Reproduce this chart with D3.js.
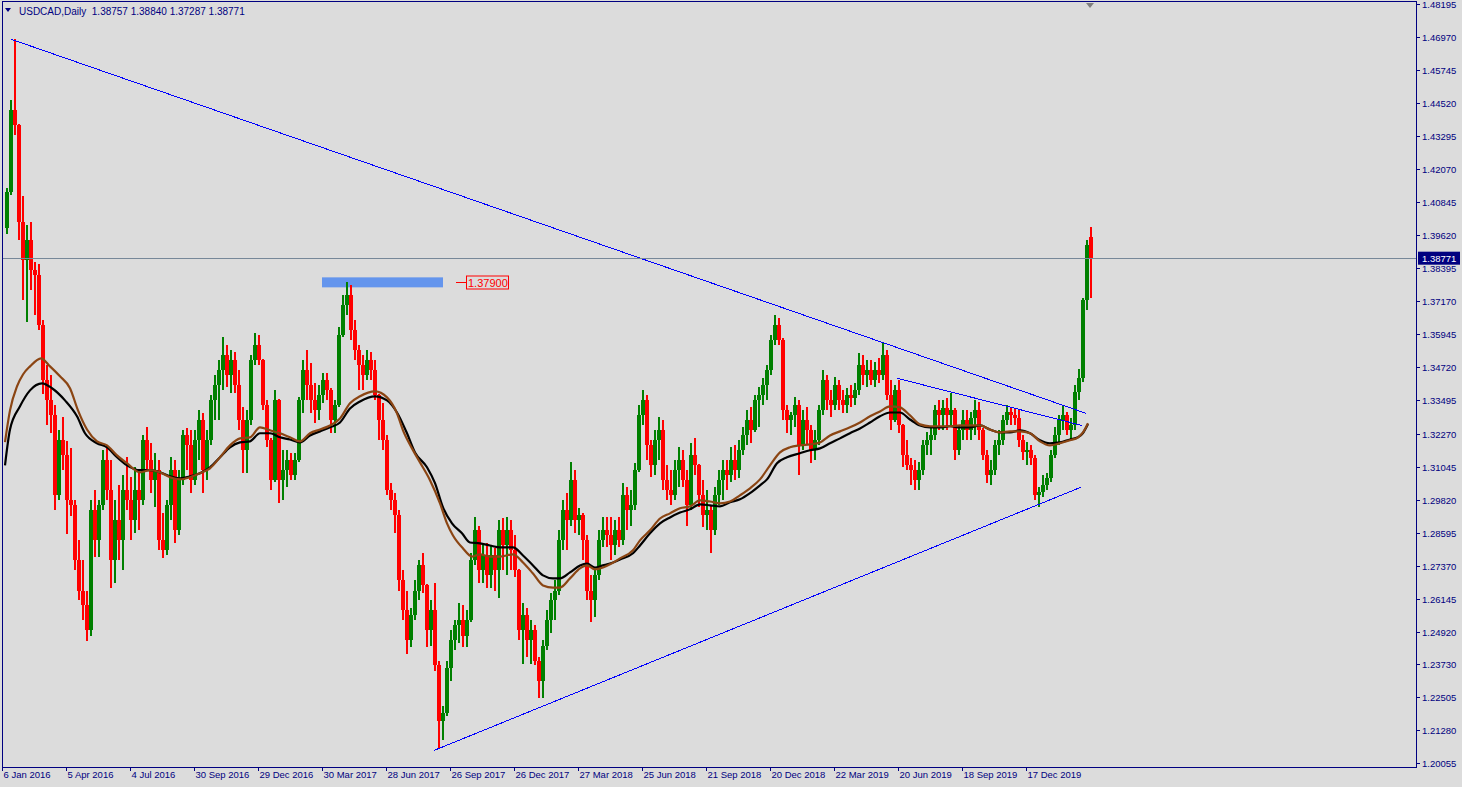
<!DOCTYPE html>
<html><head><meta charset="utf-8">
<script src="https://cdn.jsdelivr.net/npm/d3@7"></script>
<style>
html,body{margin:0;padding:0;background:#DCDCDC;overflow:hidden;}
svg{display:block;}
text{font-family:"Liberation Sans",Arial,sans-serif;}
</style></head><body>
<svg id="c" width="1462" height="787"></svg>
<script>
// ---------------- DATA ----------------
const symbolTitle = "USDCAD,Daily";
const lastBar = [1.38757, 1.38840, 1.37287, 1.38771]; // O H L C of the last daily bar
const groupSize = 4; // each candle below aggregates 4 daily bars

const dateLabels = ["6 Jan 2016","5 Apr 2016","4 Jul 2016","30 Sep 2016","29 Dec 2016","30 Mar 2017","28 Jun 2017","26 Sep 2017","26 Dec 2017","27 Mar 2018","25 Jun 2018","21 Sep 2018","20 Dec 2018","22 Mar 2019","20 Jun 2019","18 Sep 2019","17 Dec 2019"];
const dateBars = [0,64,128,192,256,320,384,448,512,576,640,704,768,832,896,960,1024];

const priceLabels = ["1.48195","1.46970","1.45745","1.44520","1.43295","1.42070","1.40845","1.39620","1.38395","1.37170","1.35945","1.34720","1.33495","1.32270","1.31045","1.29820","1.28595","1.27370","1.26145","1.24920","1.23730","1.22505","1.21280","1.20055"];

const opens = [
1.3988,1.4122,1.4426,1.4370,1.4010,1.3869,1.3944,1.3832,1.3814,1.3628,
1.3424,1.3350,1.3294,1.2998,1.3202,1.3146,1.2979,1.2961,1.2757,1.2645,
1.2590,1.2497,1.2942,1.2831,1.2961,1.3128,1.3017,1.2757,1.2905,1.2831,
1.3017,1.2979,1.2905,1.3017,1.2979,1.3202,1.3128,1.3054,1.3091,1.2831,
1.2794,1.2961,1.3091,1.2868,1.3054,1.3220,1.3183,1.3054,1.3202,1.3276,
1.3091,1.3202,1.3350,1.3406,1.3461,1.3517,1.3443,1.3498,1.3406,1.3276,
1.3165,1.3276,1.3498,1.3554,1.3498,1.3331,1.3202,1.3054,1.3350,1.3054,
1.3091,1.3128,1.3072,1.3128,1.3350,1.3461,1.3406,1.3350,1.3313,1.3369,
1.3424,1.3387,1.3276,1.3331,1.3591,1.3703,1.3740,1.3610,1.3536,1.3480,
1.3443,1.3498,1.3461,1.3369,1.3276,1.3202,1.3017,1.2979,1.2924,1.2683,
1.2571,1.2460,1.2553,1.2645,1.2738,1.2664,1.2497,1.2571,1.2367,1.2163,
1.2192,1.2356,1.2460,1.2516,1.2534,1.2478,1.2534,1.2757,1.2868,1.2720,
1.2775,1.2701,1.2775,1.2720,1.2868,1.2812,1.2868,1.2794,1.2720,1.2497,
1.2553,1.2460,1.2497,1.2385,1.2311,1.2441,1.2534,1.2608,1.2645,1.2831,
1.2942,1.2905,1.3054,1.2905,1.2924,1.2831,1.2645,1.2608,1.2701,1.2831,
1.2868,1.2849,1.2812,1.2868,1.2831,1.2998,1.2942,1.2961,1.3091,1.3294,
1.3350,1.3183,1.3109,1.3202,1.3239,1.3054,1.3017,1.2998,1.3091,1.3128,
1.3054,1.2961,1.3146,1.3109,1.2998,1.2924,1.2942,1.2868,1.2998,1.3054,
1.3091,1.3072,1.3128,1.3091,1.3165,1.3220,1.3276,1.3239,1.3350,1.3369,
1.3406,1.3461,1.3573,1.3628,1.3573,1.3313,1.3276,1.3294,1.3331,1.3183,
1.3276,1.3239,1.3165,1.3202,1.3313,1.3424,1.3350,1.3331,1.3406,1.3350,
1.3331,1.3369,1.3358,1.3387,1.3480,1.3443,1.3461,1.3424,1.3461,1.3443,
1.3517,1.3369,1.3276,1.3387,1.3257,1.3146,1.3109,1.3091,1.3054,1.3091,
1.3183,1.3202,1.3220,1.3313,1.3294,1.3320,1.3294,1.3313,1.3165,1.3239,
1.3276,1.3239,1.3283,1.3313,1.3239,1.3146,1.3072,1.3091,1.3183,1.3202,
1.3276,1.3305,1.3294,1.3283,1.3202,1.3157,1.3165,1.3135,1.2998,1.3009,
1.3035,1.3061,1.3146,1.3220,1.3276,1.3294,1.3239,1.3257,1.3380,1.3432,
1.3721,1.3955];

const highs = [
1.4137,1.4463,1.4689,1.4375,1.4107,1.3999,1.4010,1.3862,1.3855,1.3647,
1.3480,1.3443,1.3331,1.3239,1.3287,1.3198,1.3172,1.2979,1.2831,1.2757,
1.2645,1.2979,1.3017,1.2979,1.3165,1.3183,1.3128,1.2979,1.3035,1.3072,
1.3139,1.3065,1.3102,1.3091,1.3220,1.3250,1.3191,1.3154,1.3128,1.2931,
1.2979,1.3139,1.3128,1.3091,1.3239,1.3246,1.3239,1.3239,1.3313,1.3302,
1.3239,1.3369,1.3443,1.3498,1.3584,1.3554,1.3536,1.3528,1.3461,1.3324,
1.3313,1.3517,1.3599,1.3591,1.3505,1.3350,1.3210,1.3387,1.3355,1.3165,
1.3165,1.3154,1.3154,1.3361,1.3498,1.3536,1.3487,1.3413,1.3406,1.3450,
1.3450,1.3395,1.3350,1.3621,1.3740,1.3788,1.3777,1.3647,1.3554,1.3517,
1.3536,1.3528,1.3498,1.3375,1.3339,1.3220,1.3043,1.3006,1.2942,1.2720,
1.2645,1.2582,1.2683,1.2757,1.2783,1.2670,1.2608,1.2671,1.2385,1.2218,
1.2385,1.2497,1.2534,1.2597,1.2590,1.2571,1.2783,1.2916,1.2886,1.2812,
1.2820,1.2812,1.2801,1.2905,1.2912,1.2916,1.2905,1.2849,1.2725,1.2597,
1.2582,1.2534,1.2516,1.2397,1.2460,1.2571,1.2634,1.2683,1.2868,1.2979,
1.3006,1.3120,1.3091,1.2950,1.2931,1.2849,1.2701,1.2720,1.2868,1.2916,
1.2916,1.2916,1.2905,1.2916,1.3043,1.3028,1.3017,1.3117,1.3331,1.3387,
1.3369,1.3202,1.3239,1.3287,1.3276,1.3109,1.3091,1.3128,1.3176,1.3165,
1.3091,1.3191,1.3209,1.3115,1.3054,1.3017,1.2961,1.3028,1.3091,1.3128,
1.3128,1.3176,1.3183,1.3202,1.3250,1.3313,1.3324,1.3369,1.3398,1.3432,
1.3480,1.3591,1.3665,1.3654,1.3580,1.3331,1.3305,1.3361,1.3350,1.3313,
1.3324,1.3257,1.3239,1.3331,1.3461,1.3443,1.3387,1.3435,1.3424,1.3387,
1.3395,1.3406,1.3413,1.3524,1.3517,1.3498,1.3498,1.3491,1.3506,1.3566,
1.3536,1.3424,1.3406,1.3424,1.3262,1.3202,1.3135,1.3128,1.3120,1.3202,
1.3231,1.3250,1.3331,1.3350,1.3350,1.3358,1.3376,1.3320,1.3257,1.3313,
1.3313,1.3305,1.3350,1.3343,1.3246,1.3165,1.3128,1.3202,1.3239,1.3294,
1.3331,1.3324,1.3320,1.3313,1.3220,1.3194,1.3183,1.3146,1.3028,1.3072,
1.3080,1.3165,1.3250,1.3294,1.3331,1.3305,1.3283,1.3406,1.3465,1.3728,
1.3944,1.3992];

const lows = [
1.3966,1.4111,1.4333,1.3944,1.3721,1.3639,1.3758,1.3665,1.3610,1.3372,
1.3257,1.3228,1.2942,1.2979,1.3091,1.2853,1.2920,1.2720,1.2608,1.2534,
1.2456,1.2478,1.2771,1.2771,1.2942,1.2979,1.2656,1.2671,1.2757,1.2720,
1.2942,1.2831,1.2857,1.2868,1.2961,1.3091,1.3006,1.2953,1.2794,1.2764,
1.2775,1.2905,1.2820,1.2849,1.3035,1.3091,1.3006,1.3035,1.3128,1.3006,
1.3054,1.3183,1.3276,1.3276,1.3387,1.3398,1.3376,1.3376,1.3239,1.3080,
1.3080,1.3257,1.3480,1.3480,1.3313,1.3176,1.3017,1.3048,1.2968,1.2979,
1.3028,1.3054,1.3054,1.3120,1.3302,1.3350,1.3302,1.3265,1.3276,1.3339,
1.3350,1.3228,1.3228,1.3325,1.3585,1.3665,1.3573,1.3498,1.3387,1.3387,
1.3424,1.3424,1.3350,1.3202,1.3165,1.2998,1.2942,1.2857,1.2645,1.2534,
1.2411,1.2434,1.2534,1.2608,1.2634,1.2434,1.2441,1.2348,1.2059,1.2089,
1.2181,1.2311,1.2423,1.2449,1.2434,1.2434,1.2527,1.2738,1.2671,1.2671,
1.2656,1.2656,1.2645,1.2619,1.2720,1.2701,1.2720,1.2694,1.2460,1.2374,
1.2397,1.2374,1.2367,1.2248,1.2248,1.2423,1.2486,1.2534,1.2627,1.2794,
1.2794,1.2886,1.2857,1.2849,1.2757,1.2608,1.2527,1.2545,1.2683,1.2805,
1.2805,1.2757,1.2775,1.2805,1.2812,1.2868,1.2886,1.2942,1.3083,1.3257,
1.3128,1.3065,1.3072,1.3128,1.3017,1.2979,1.2961,1.2979,1.3028,1.3028,
1.2886,1.2942,1.3072,1.2953,1.2879,1.2868,1.2783,1.2849,1.2961,1.2979,
1.3017,1.3046,1.3054,1.3061,1.3146,1.3183,1.3191,1.3231,1.3250,1.3331,
1.3350,1.3443,1.3554,1.3554,1.3276,1.3228,1.3220,1.3250,1.3072,1.3165,
1.3183,1.3117,1.3128,1.3183,1.3294,1.3313,1.3287,1.3313,1.3313,1.3302,
1.3302,1.3324,1.3331,1.3369,1.3406,1.3398,1.3406,1.3398,1.3413,1.3424,
1.3350,1.3239,1.3268,1.3228,1.3102,1.3091,1.3035,1.3017,1.3017,1.3072,
1.3146,1.3146,1.3202,1.3239,1.3239,1.3239,1.3257,1.3128,1.3146,1.3202,
1.3202,1.3202,1.3220,1.3202,1.3128,1.3043,1.3035,1.3072,1.3146,1.3183,
1.3257,1.3257,1.3257,1.3176,1.3128,1.3109,1.3109,1.2979,1.2953,1.2991,
1.3017,1.3046,1.3135,1.3183,1.3239,1.3220,1.3202,1.3239,1.3350,1.3417,
1.3684,1.3729];

const closes = [
1.4122,1.4426,1.4370,1.4010,1.3869,1.3944,1.3832,1.3814,1.3628,1.3424,
1.3350,1.3294,1.2998,1.3202,1.3146,1.2979,1.2961,1.2757,1.2645,1.2590,
1.2497,1.2942,1.2831,1.2961,1.3128,1.3017,1.2757,1.2905,1.2831,1.3017,
1.2979,1.2905,1.3017,1.2979,1.3202,1.3128,1.3054,1.3091,1.2831,1.2794,
1.2961,1.3091,1.2868,1.3054,1.3220,1.3183,1.3054,1.3202,1.3276,1.3091,
1.3202,1.3350,1.3406,1.3461,1.3517,1.3443,1.3498,1.3406,1.3276,1.3165,
1.3276,1.3498,1.3554,1.3498,1.3331,1.3202,1.3054,1.3350,1.3054,1.3091,
1.3128,1.3072,1.3128,1.3350,1.3461,1.3406,1.3350,1.3313,1.3369,1.3424,
1.3387,1.3276,1.3331,1.3591,1.3703,1.3740,1.3610,1.3536,1.3480,1.3443,
1.3498,1.3461,1.3369,1.3276,1.3202,1.3017,1.2979,1.2924,1.2683,1.2571,
1.2460,1.2553,1.2645,1.2738,1.2664,1.2497,1.2571,1.2367,1.2163,1.2192,
1.2356,1.2460,1.2516,1.2534,1.2478,1.2534,1.2757,1.2868,1.2720,1.2775,
1.2701,1.2775,1.2720,1.2868,1.2812,1.2868,1.2794,1.2720,1.2497,1.2553,
1.2460,1.2497,1.2385,1.2311,1.2441,1.2534,1.2608,1.2645,1.2831,1.2942,
1.2905,1.3054,1.2905,1.2924,1.2831,1.2645,1.2608,1.2701,1.2831,1.2868,
1.2849,1.2812,1.2868,1.2831,1.2998,1.2942,1.2961,1.3091,1.3294,1.3350,
1.3183,1.3109,1.3202,1.3239,1.3054,1.3017,1.2998,1.3091,1.3128,1.3054,
1.2961,1.3146,1.3109,1.2998,1.2924,1.2942,1.2868,1.2998,1.3054,1.3091,
1.3072,1.3128,1.3091,1.3165,1.3220,1.3276,1.3239,1.3350,1.3369,1.3406,
1.3461,1.3573,1.3628,1.3573,1.3313,1.3276,1.3294,1.3331,1.3183,1.3276,
1.3239,1.3165,1.3202,1.3313,1.3424,1.3350,1.3331,1.3406,1.3350,1.3331,
1.3369,1.3358,1.3387,1.3480,1.3443,1.3461,1.3424,1.3461,1.3443,1.3517,
1.3369,1.3276,1.3387,1.3257,1.3146,1.3109,1.3091,1.3054,1.3091,1.3183,
1.3202,1.3220,1.3313,1.3294,1.3320,1.3294,1.3313,1.3165,1.3239,1.3276,
1.3239,1.3283,1.3313,1.3239,1.3146,1.3072,1.3091,1.3183,1.3202,1.3276,
1.3305,1.3294,1.3283,1.3202,1.3157,1.3165,1.3135,1.2998,1.3009,1.3035,
1.3061,1.3146,1.3220,1.3276,1.3294,1.3239,1.3257,1.3380,1.3432,1.3721,
1.3925,1.3877];

// Moving averages (bar index, value)
const blackMaBars = [0,5,15,25,37,47,60,72,80,92,102,112,122,135,145,155,165,175,185,195,205,215,225,235,245,255,265,275,285,295,305,315,325,335,345,355,370,382,392,402,410,422,430,438,447,457,465,475,485,495,508,518,528,538,548,555,565,575,582,590,598,605,615,628,635,645,655,665,675,685,695,705,715,725,735,745,755,762,772,782,795,805,815,825,835,845,855,865,875,885,895,905,915,925,935,945,955,965,975,985,995,1005,1015,1025,1035,1045,1055,1065,1073,1078,1083];
const blackMa = [1.3109,1.3242,1.3328,1.3387,1.3413,1.3395,1.3350,1.3291,1.3228,1.3191,1.3176,1.3139,1.3109,1.3091,1.3091,1.3083,1.3068,1.3061,1.3068,1.3080,1.3102,1.3139,1.3176,1.3194,1.3198,1.3228,1.3228,1.3213,1.3205,1.3194,1.3220,1.3235,1.3250,1.3268,1.3320,1.3346,1.3365,1.3350,1.3305,1.3228,1.3157,1.3102,1.3043,1.2953,1.2894,1.2857,1.2823,1.2820,1.2812,1.2805,1.2805,1.2775,1.2738,1.2701,1.2690,1.2690,1.2712,1.2738,1.2745,1.2730,1.2738,1.2745,1.2760,1.2783,1.2812,1.2857,1.2894,1.2916,1.2934,1.2946,1.2964,1.2961,1.2957,1.2972,1.2983,1.3006,1.3035,1.3057,1.3117,1.3139,1.3154,1.3165,1.3172,1.3191,1.3209,1.3228,1.3246,1.3268,1.3291,1.3305,1.3305,1.3279,1.3257,1.3250,1.3250,1.3254,1.3250,1.3250,1.3257,1.3242,1.3231,1.3231,1.3239,1.3228,1.3202,1.3191,1.3194,1.3205,1.3213,1.3229,1.3262];

const brownMaBars = [0,5,12,18,25,36,45,55,65,73,82,92,102,112,122,135,145,155,165,175,185,195,205,215,225,235,245,255,265,275,285,295,305,315,325,335,345,355,370,382,392,398,407,415,425,435,442,448,458,467,475,485,495,508,518,528,538,548,555,565,575,582,590,598,605,615,628,635,645,655,665,675,685,695,705,715,725,735,745,755,765,775,785,795,805,815,825,835,845,855,865,875,885,895,905,915,925,935,945,955,965,975,985,995,1005,1015,1025,1035,1045,1055,1065,1073,1078,1083];
const brownMa = [1.3195,1.3313,1.3402,1.3446,1.3476,1.3506,1.3476,1.3439,1.3395,1.3313,1.3242,1.3198,1.3183,1.3146,1.3117,1.3083,1.3091,1.3083,1.3065,1.3057,1.3065,1.3080,1.3098,1.3139,1.3183,1.3209,1.3213,1.3250,1.3239,1.3228,1.3213,1.3198,1.3228,1.3242,1.3257,1.3283,1.3339,1.3365,1.3383,1.3361,1.3302,1.3239,1.3172,1.3120,1.3054,1.2968,1.2894,1.2849,1.2801,1.2771,1.2779,1.2771,1.2771,1.2779,1.2749,1.2708,1.2664,1.2656,1.2656,1.2690,1.2727,1.2738,1.2723,1.2730,1.2742,1.2764,1.2794,1.2831,1.2868,1.2912,1.2931,1.2950,1.2957,1.2979,1.2975,1.2968,1.2975,1.2998,1.3024,1.3057,1.3109,1.3157,1.3176,1.3183,1.3187,1.3194,1.3220,1.3235,1.3250,1.3268,1.3291,1.3309,1.3328,1.3324,1.3294,1.3261,1.3254,1.3254,1.3254,1.3257,1.3257,1.3257,1.3242,1.3231,1.3235,1.3235,1.3228,1.3198,1.3183,1.3191,1.3202,1.3213,1.3231,1.3265];

// Trend lines: [bar1, price1, bar2, price2]
const trendLines = [[6,1.4689,1081,1.3302],[892,1.3432,1077,1.3257],[429,1.2052,1076,1.3028]];
// Highlight zone
const zoneBars = [317, 438];
const zonePrices = [1.3806, 1.3769];
const zoneLevel = 1.37900;

// ---------------- CHART ----------------
const svg = d3.select('#c');
const navy = '#000080';
const plotL = 2, plotR = 1416, plotT = 1, plotB = 767;
const x = d3.scaleLinear().domain([0, 1088]).range([5, 1093]);
const y = d3.scaleLinear().domain([1.20055, 1.48195]).range([763, 4]);

svg.append('rect').attr('width',1462).attr('height',787).attr('fill','#DCDCDC');
svg.append('defs').append('clipPath').attr('id','clip').append('rect')
  .attr('x',plotL+1).attr('y',plotT+1).attr('width',plotR-plotL-1).attr('height',plotB-plotT-1);
const plot = svg.append('g').attr('clip-path','url(#clip)');

// zone (background object)
plot.append('rect')
  .attr('x', x(zoneBars[0])).attr('width', x(zoneBars[1]) - x(zoneBars[0]))
  .attr('y', y(zonePrices[0])).attr('height', y(zonePrices[1]) - y(zonePrices[0]))
  .attr('fill', '#6495ED');

// candles
const data = closes.map((c, i) => ({i, o: opens[i], h: highs[i], l: lows[i], c}));
const col = d => d.c >= d.o ? '#008000' : '#FF0000';
const cg = plot.append('g').attr('shape-rendering','crispEdges');
cg.selectAll('line').data(data).join('line')
  .attr('x1', d => x(d.i * groupSize) + 1.5).attr('x2', d => x(d.i * groupSize) + 1.5)
  .attr('y1', d => y(d.h)).attr('y2', d => y(d.l))
  .attr('stroke', col).attr('stroke-width', 2);
cg.selectAll('rect').data(data).join('rect')
  .attr('x', d => x(d.i * groupSize)).attr('width', 4)
  .attr('y', d => y(Math.max(d.o, d.c)))
  .attr('height', d => Math.max(1, Math.abs(y(d.o) - y(d.c))))
  .attr('fill', col);

// moving averages
const maLine = d3.line().x(d => x(d[0])).y(d => y(d[1])).curve(d3.curveMonotoneX);
plot.append('path').datum(d3.zip(blackMaBars, blackMa)).attr('d', maLine)
  .attr('fill','none').attr('stroke','#000000').attr('stroke-width',2.2);
plot.append('path').datum(d3.zip(brownMaBars, brownMa)).attr('d', maLine)
  .attr('fill','none').attr('stroke','#8B4513').attr('stroke-width',2.2);

// trend lines
plot.selectAll('line.tl').data(trendLines).join('line').attr('class','tl')
  .attr('x1', d => x(d[0])).attr('y1', d => y(d[1]))
  .attr('x2', d => x(d[2])).attr('y2', d => y(d[3]))
  .attr('stroke','#0000FF').attr('stroke-width',1).attr('shape-rendering','crispEdges');

// bid line
const bidY = Math.round(y(lastBar[3])) + 0.5;
plot.append('line').attr('x1', plotL).attr('x2', plotR).attr('y1', bidY).attr('y2', bidY)
  .attr('stroke','#778899').attr('stroke-width',1);

// zone level label
const zx = x(zoneBars[1]);
const zy = Math.round(y(zoneLevel)) + 0.5;
plot.append('line').attr('x1', zx + 13).attr('x2', zx + 24).attr('y1', zy).attr('y2', zy)
  .attr('stroke','#FF0000').attr('stroke-width',1);
plot.append('rect').attr('x', zx + 23.5).attr('y', zy - 6.5).attr('width', 42).attr('height', 13)
  .attr('fill','none').attr('stroke','#FF0000').attr('stroke-width',1);
plot.append('text').attr('x', zx + 25).attr('y', zy + 4).attr('fill','#FF0000')
  .attr('font-size','11px').text(zoneLevel.toFixed(5));

// frame
svg.append('rect').attr('x', plotL + 0.5).attr('y', plotT + 0.5)
  .attr('width', plotR - plotL).attr('height', plotB - plotT)
  .attr('fill','none').attr('stroke', navy).attr('stroke-width',1);

// price axis
const pa = svg.append('g');
priceLabels.forEach(lbl => {
  const yy = Math.round(y(+lbl)) + 0.5;
  pa.append('line').attr('x1', plotR).attr('x2', plotR + 4).attr('y1', yy).attr('y2', yy)
    .attr('stroke', navy);
  pa.append('text').attr('x', plotR + 6).attr('y', yy).attr('dy','0.35em')
    .attr('font-size','9.5px').attr('fill', navy).text(lbl);
});
// last price marker
const ly = y(lastBar[3]);
pa.append('rect').attr('x', plotR + 2).attr('y', ly - 6.5).attr('width', 42).attr('height', 13).attr('fill', navy);
pa.append('text').attr('x', plotR + 6).attr('y', ly).attr('dy','0.35em')
  .attr('font-size','9.5px').attr('fill','#FFFFFF').text(lastBar[3].toFixed(5));

// date axis
const da = svg.append('g');
dateBars.forEach((b, k) => {
  const xx = Math.round(x(b)) - 2.5;
  da.append('line').attr('x1', xx).attr('x2', xx).attr('y1', plotB).attr('y2', plotB + 4).attr('stroke', navy);
  da.append('text').attr('x', xx + 1).attr('y', plotB + 11).attr('font-size','9.5px').attr('fill', navy).text(dateLabels[k]);
});

// header
svg.append('path').attr('d','M5,8 L11,8 L8,12 Z').attr('fill', navy);
svg.append('text').attr('x', 19).attr('y', 15).attr('font-size','10px').attr('fill', navy)
  .attr('xml:space','preserve')
  .text(symbolTitle + '  ' + lastBar.map(v => v.toFixed(5)).join(' '));

// chart shift marker
const sx = x(1085);
svg.append('path').attr('d', `M${sx-4},${plotT+2} L${sx+4},${plotT+2} L${sx},${plotT+7} Z`).attr('fill','#7F7F7F');
</script>
</body></html>
